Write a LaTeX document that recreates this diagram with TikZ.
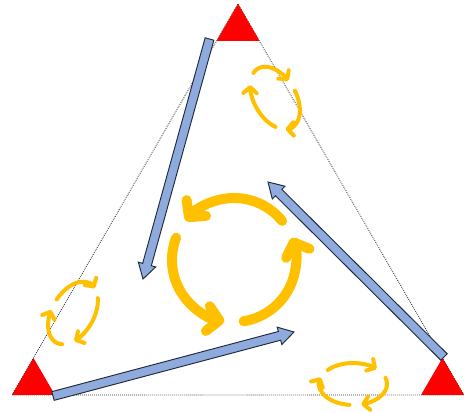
\documentclass[tikz,border=0pt]{standalone}
\usepackage{xcolor}
\usepackage{tikz}
\usetikzlibrary{arrows.meta, calc}

\definecolor{cycleyellow}{HTML}{FFC000}
\definecolor{arrowblue}{HTML}{8FAADC}
\definecolor{arrowline}{HTML}{1F2A38}
\definecolor{cornerred}{HTML}{FF0000}

\begin{document}
\begin{tikzpicture}[
    x=0.3mm, y=0.3mm,
    frame/.style={densely dotted, line width=0.7pt, black!85},
    corner/.style={fill=cornerred},
    blockarrow/.style={draw=arrowline, fill=arrowblue, line width=0.8pt, line join=miter,
        to path={($(\tikztostart)!1.35mm!90:(\tikztotarget)$)
            -- ($($(\tikztotarget)!4.5mm!(\tikztostart)$)!1.35mm!-90:(\tikztostart)$)
            -- ($($(\tikztotarget)!4.5mm!(\tikztostart)$)!2.7mm!-90:(\tikztostart)$)
            -- (\tikztotarget)
            -- ($($(\tikztotarget)!4.5mm!(\tikztostart)$)!2.7mm!90:(\tikztostart)$)
            -- ($($(\tikztotarget)!4.5mm!(\tikztostart)$)!1.35mm!90:(\tikztostart)$)
            -- ($(\tikztostart)!1.35mm!-90:(\tikztotarget)$) -- cycle}},
    bigcycle/.style={draw=cycleyellow, line width=3mm, line cap=round,
        -{Straight Barb[length=3.5mm, width=7.5mm, round]}},
    smallcycle/.style={draw=cycleyellow, line width=1.2mm, line cap=round,
        -{Straight Barb[length=1.8mm, width=4mm, round]}}
]
    \useasboundingbox (0,0) rectangle (464,412);

    \coordinate (top) at (238,408);
    \coordinate (left) at (12,17);
    \coordinate (right) at (464,17);
    \coordinate (hub) at (234,152);

    \coordinate (tail1) at (209.5,373);
    \coordinate (tip1) at (143,133);
    \coordinate (tail2) at (53,16);
    \coordinate (tip2) at (294,80);
    \coordinate (tail3) at (444,55);
    \coordinate (tip3) at (268,230);

    \draw[frame] (top) -- (left) -- (right) -- cycle;

    \begin{scope}[shift={(353,28)}]
        \draw[smallcycle] (138:34 and 21) arc[start angle=138, end angle=46, x radius=34, y radius=21];
        \draw[smallcycle] (17:34 and 21) arc[start angle=17, end angle=-76, x radius=34, y radius=21];
        \draw[smallcycle] (-96:34 and 21) arc[start angle=-96, end angle=-198, x radius=34, y radius=21];
    \end{scope}
    \begin{scope}[shift={(275,314)}, rotate=120]
        \draw[smallcycle] (138:34 and 21) arc[start angle=138, end angle=46, x radius=34, y radius=21];
        \draw[smallcycle] (17:34 and 21) arc[start angle=17, end angle=-76, x radius=34, y radius=21];
        \draw[smallcycle] (-96:34 and 21) arc[start angle=-96, end angle=-198, x radius=34, y radius=21];
    \end{scope}
    \begin{scope}[shift={(73,99)}, rotate=-120]
        \draw[smallcycle] (138:34 and 21) arc[start angle=138, end angle=46, x radius=34, y radius=21];
        \draw[smallcycle] (17:34 and 21) arc[start angle=17, end angle=-76, x radius=34, y radius=21];
        \draw[smallcycle] (-96:34 and 21) arc[start angle=-96, end angle=-198, x radius=34, y radius=21];
    \end{scope}

    \fill[corner] (top) -- ++(-21.5,-37) -- ++(43,0) -- cycle;
    \fill[corner] (left) -- ++(21.5,37) -- ++(21.5,-37) -- cycle;
    \fill[corner] (right) -- ++(-21.5,37) -- ++(-21.5,-37) -- cycle;

    \draw[blockarrow] (tail1) to (tip1);
    \draw[blockarrow] (tail2) to (tip2);
    \draw[blockarrow] (tail3) to (tip3);

    \draw[bigcycle] ($(hub)+(39:18.6mm)$) arc[start angle=39, end angle=141, radius=18.6mm];
    \draw[bigcycle] ($(hub)+(159:18.6mm)$) arc[start angle=159, end angle=261, radius=18.6mm];
    \draw[bigcycle] ($(hub)+(279:18.6mm)$) arc[start angle=279, end angle=381, radius=18.6mm];
\end{tikzpicture}
\end{document}
